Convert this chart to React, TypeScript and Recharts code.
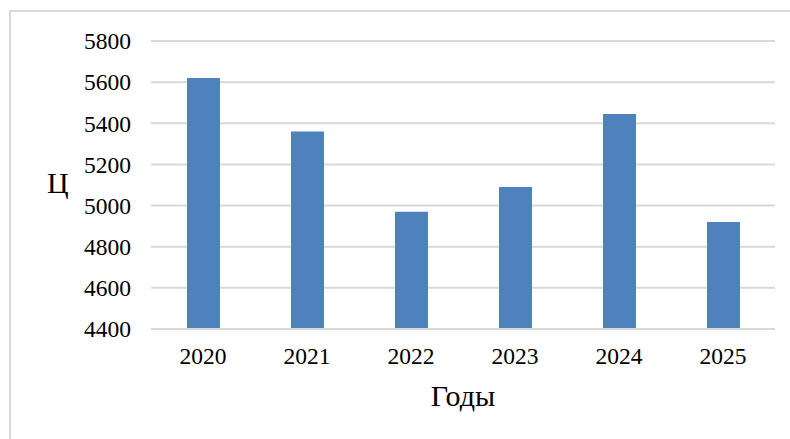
import React from 'react';
import { Bar, BarChart, CartesianGrid, XAxis, YAxis } from 'recharts';

const years = ['2020', '2021', '2022', '2023', '2024', '2025'];
const values = [5620, 5360, 4970, 5090, 5445, 4920];
const yTicks = [4400, 4600, 4800, 5000, 5200, 5400, 5600, 5800];

const data = years.map((year, i) => ({ year, value: values[i] }));

const font = 'Liberation Serif, Times New Roman, serif';

const XTick = (props: any) => {
  const { x, y, payload } = props;
  return (
    <text x={x} y={y} dy={16.5} textAnchor="middle" fill="#000" fontSize={23.5} fontFamily={font}>
      {payload.value}
    </text>
  );
};

const YTick = (props: any) => {
  const { x, y, payload } = props;
  return (
    <text x={x} y={y} dy={8.3} textAnchor="end" fill="#000" fontSize={23.5} fontFamily={font}>
      {payload.value}
    </text>
  );
};

const App = () => (
  <div style={{ position: 'absolute', left: 0, top: 0, width: 790, height: 439, overflow: 'hidden' }}>
    <div
      style={{
        position: 'absolute',
        left: 9,
        top: 10,
        width: 781,
        height: 429,
        boxSizing: 'border-box',
        borderLeft: '2px solid #d9d9d9',
        borderTop: '2px solid #d9d9d9',
      }}
    />
    <BarChart
      width={790}
      height={439}
      data={data}
      margin={{ top: 41, right: 15, bottom: 0, left: 0 }}
      style={{ position: 'absolute', left: 0, top: 0, fontFamily: font }}
    >
      <CartesianGrid vertical={false} stroke="#d9d9d9" strokeWidth={2} />
      <XAxis
        dataKey="year"
        height={110}
        tickSize={0}
        tickMargin={18}
        tickLine={false}
        axisLine={{ stroke: '#d9d9d9', strokeWidth: 2 }}
        tick={<XTick />}
        label={{ value: 'Годы', position: 'insideBottom', offset: 33, fill: '#000', fontSize: 30, fontFamily: font }}
      />
      <YAxis
        width={151}
        domain={[4400, 5800]}
        ticks={yTicks}
        interval={0}
        tickSize={0}
        tickMargin={20}
        tickLine={false}
        axisLine={false}
        tick={<YTick />}
        label={{ value: 'Ц', position: 'insideLeft', angle: 0, dx: 42, dy: -3, fill: '#000', fontSize: 30, fontFamily: font }}
      />
      <Bar dataKey="value" fill="#4f81bd" barSize={33} isAnimationActive={false} />
    </BarChart>
  </div>
);

export default App;
